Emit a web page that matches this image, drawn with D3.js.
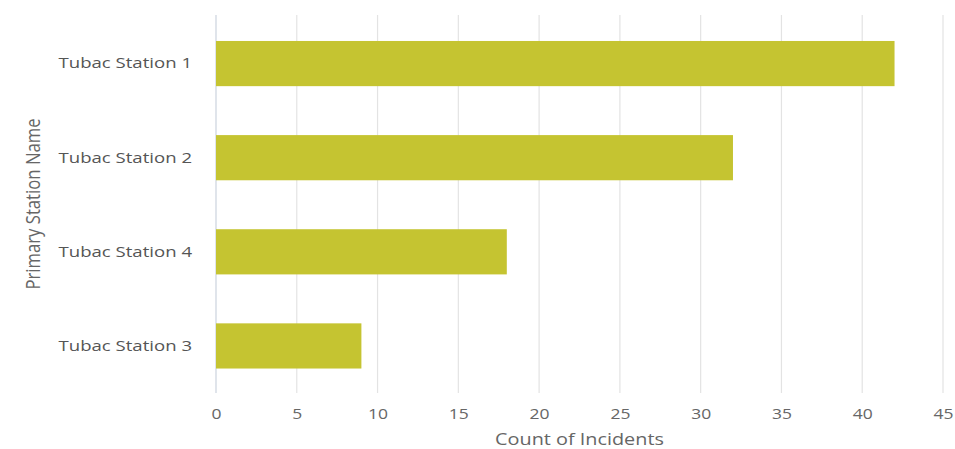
<!DOCTYPE html>
<html><head><meta charset="utf-8">
<script src="https://cdn.jsdelivr.net/npm/d3@7"></script>
<style>body{margin:0;background:#fff;} text{font-family:"Open Sans",sans-serif;}</style>
</head><body><svg id="c" width="955" height="449"></svg>
<script>
const categories = ["Tubac Station 1","Tubac Station 2","Tubac Station 4","Tubac Station 3"];
const values = [42, 32, 18, 9];
const xTicks = [0,5,10,15,20,25,30,35,40,45];
const xTitle = "Count of Incidents";
const yTitle = "Primary Station Name";

const svg = d3.select("#c");
const m = {l:216, r:12, t:15, b:56};
const W = 955, H = 449;
const x = d3.scaleLinear().domain([0,45]).range([m.l, W-m.r]);
const y = d3.scaleBand().domain(categories).range([m.t+1.5, H-m.b]).paddingInner(0.52).paddingOuter(0.26);

svg.append("g").selectAll("line").data(xTicks).join("line")
  .attr("x1", d=>x(d)).attr("x2", d=>x(d))
  .attr("y1", m.t).attr("y2", H-m.b)
  .attr("stroke", d=> d===0 ? "#ccd3de" : "#e3e3e3").attr("stroke-width",1.2);

svg.append("g").selectAll("rect").data(values).join("rect")
  .attr("x", x(0)).attr("y", (d,i)=>y(categories[i]))
  .attr("width", d=>x(d)-x(0)).attr("height", y.bandwidth())
  .attr("fill", "#c5c431");

const sx = 1.25;
const xa = d3.axisBottom(x).tickValues(xTicks).tickSize(0).tickPadding(0);
const gx = svg.append("g").attr("transform", `translate(0,${H-m.b+21})`).call(xa);
gx.select(".domain").remove();
gx.selectAll("text").attr("fill","#666").attr("font-size","14px")
  .attr("transform",`scale(${sx},1)`).attr("dy","0.35em").attr("y",0);

const sy = 1.24;
const ya = d3.axisLeft(y).tickSize(0).tickPadding(0);
const gy = svg.append("g").attr("transform", `translate(${m.l},0)`).call(ya);
gy.select(".domain").remove();
gy.selectAll("text").attr("fill","#555").attr("font-size","15px")
  .attr("x", -24/sy).attr("transform",`scale(${sy},1)`);

svg.append("g").attr("transform",`translate(${(x(0)+x(45))/2},440)`)
  .append("text").attr("text-anchor","middle").attr("transform","scale(1.28,1)")
  .attr("dy","0.35em").attr("fill","#666").attr("font-size","15.5px").text(xTitle);
svg.append("g").attr("transform",`translate(33,${(m.t+H-m.b)/2}) rotate(-90)`)
  .append("text").attr("text-anchor","middle").attr("transform","scale(1,1.2)")
  .attr("dy","0.35em").attr("fill","#666").attr("font-size","16.7px").text(yTitle);
</script></body></html>
